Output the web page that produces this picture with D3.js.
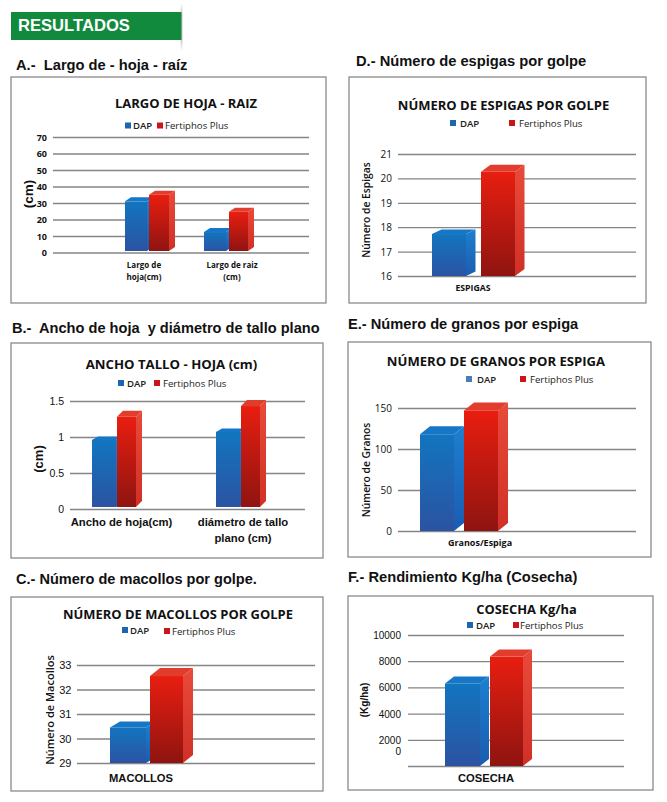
<!DOCTYPE html>
<html><head><meta charset="utf-8">
<script src="https://cdnjs.cloudflare.com/ajax/libs/d3/7.8.5/d3.min.js"></script>
<style>html,body{margin:0;padding:0;background:#fff}svg{display:block}</style>
</head><body><svg id="c" width="667" height="802"></svg>
<script>
const seriesNames = ["DAP", "Fertiphos Plus"];

const catsA = [["Largo de","hoja(cm)"],["Largo de raiz","(cm)"]];
const dapA = [31, 12.4];
const fertA = [35, 24.7];
const ticksA = [0,10,20,30,40,50,60,70];

const catsB = [["Ancho de hoja(cm)"],["diámetro de tallo","plano (cm)"]];
const dapB = [0.96, 1.07];
const fertB = [1.28, 1.43];
const ticksB = [0,0.5,1,1.5];

const catsC = [["MACOLLOS"]];
const dapC = [30.45];
const fertC = [32.55];
const ticksC = [29,30,31,32,33];

const catsD = [["ESPIGAS"]];
const dapD = [17.72];
const fertD = [20.27];
const ticksD = [16,17,18,19,20,21];

const catsE = [["Granos/Espiga"]];
const dapE = [118];
const fertE = [147];
const ticksE = [0,50,100,150];

const catsF = [["COSECHA"]];
const dapF = [6300];
const fertF = [8350];
const ticksF = [0,2000,4000,6000,8000,10000];

const sectionHeads = [
 {t:"A.-  Largo de - hoja - raíz",x:16,y:69.5,s:14.7},
 {t:"B.-  Ancho de hoja  y diámetro de tallo plano",x:12,y:333,s:14.6},
 {t:"C.- Número de macollos por golpe.",x:16,y:584,s:14.55},
 {t:"D.- Número de espigas por golpe",x:356,y:66,s:14.7},
 {t:"E.- Número de granos por espiga",x:348,y:329,s:14.65},
 {t:"F.- Rendimiento Kg/ha (Cosecha)",x:348,y:582,s:14.7}
];

const panels = [
 {box:[11,77,326,303],title:"LARGO DE HOJA - RAIZ",tx:186,ty:108,ts:13,
  leg:[[125,125.5,"DAP",133],[157,125.5,"Fertiphos Plus",165]],ls:9.6,
  y:[252.5,137],grid:[53,309],dom:[0,70],ticks:ticksA,fmt:String,tickX:47,tickS:9,tickW:700,
  cats:catsA,dap:dapA,fert:fertA,xs:[[125,149,20],[204,229,19]],dw:22,depth:6,lift:4,dapLift:4,base:251,
  catX:[144,232],catY:268,catS:8,catLH:12,catW:700,
  ylab:"(cm)",ylx:33,yly:194,yls:13.5,ylw:700},
 {box:[11,343,323,558],title:"ANCHO TALLO - HOJA (cm)",tx:171.5,ty:369,ts:13.2,
  leg:[[118,383,"DAP",127],[154,383,"Fertiphos Plus",163]],ls:9.6,
  y:[509,401],grid:[70,305],dom:[0,1.5],ticks:ticksB,fmt:String,tickX:64,tickS:10.5,tickW:400,
  cats:catsB,dap:dapB,fert:fertB,xs:[[92,117,19],[216,241,19]],dw:24,depth:6,lift:6,dapLift:3.5,base:507,
  catX:[121.5,243],catY:526,catS:11.3,catLH:15.5,catW:700,sans:true,
  ylab:"(cm)",ylx:43,yly:459,yls:13,ylw:700},
 {box:[11,597,323,791],title:"NÚMERO DE MACOLLOS POR GOLPE",tx:178,ty:619,ts:12.95,
  leg:[[122,630,"DAP",130],[164,631,"Fertiphos Plus",172]],ls:9.6,
  y:[763,665],grid:[77,315],dom:[29,33],ticks:ticksC,fmt:String,tickX:71.5,tickS:11,tickW:400,
  cats:catsC,dap:dapC,fert:fertC,xs:[[110,150,33]],dw:36,depth:10,lift:8,dapLift:6,base:763,
  catX:[141],catY:782,catS:11.2,catLH:12,catW:700,sans:true,
  ylab:"Número de Macollos",ylx:54,yly:710,yls:11,ylw:600},
 {box:[349,77,646,303],title:"NÚMERO DE ESPIGAS POR GOLPE",tx:503.5,ty:110,ts:13,
  leg:[[450,123,"DAP",460],[509,123,"Fertiphos Plus",519]],ls:9.6,
  y:[276,154],grid:[398,636],dom:[16,21],ticks:ticksD,fmt:String,tickX:392,tickS:10,tickW:400,
  cats:catsD,dap:dapD,fert:fertD,xs:[[432,481,34]],dw:34,depth:9.5,lift:7,dapLift:4.5,base:276,
  catX:[473],catY:291,catS:8.7,catLH:12,catW:700,
  ylab:"Número de Espigas",ylx:370,yly:210,yls:10.3,ylw:600},
 {box:[348,342,651,557],title:"NÚMERO DE GRANOS POR ESPIGA",tx:496,ty:366,ts:13.1,
  leg:[[466,379,"DAP",477,"#4a7ebb"],[520,379,"Fertiphos Plus",530]],ls:9.6,
  y:[531,408],grid:[398,636],dom:[0,150],ticks:ticksE,fmt:String,tickX:392,tickS:10,tickW:400,
  cats:catsE,dap:dapE,fert:fertE,xs:[[420,464,34]],dw:34,depth:10,lift:8,dapLift:8,base:531,
  catX:[480],catY:546,catS:9,catLH:12,catW:700,
  ylab:"Número de Granos",ylx:369.5,yly:470,yls:10.3,ylw:600},
 {box:[348,596,653,790],title:"COSECHA Kg/ha",tx:526.5,ty:614,ts:12.9,
  leg:[[467,625,"DAP",476],[513,625,"Fertiphos Plus",520]],ls:9.6,
  y:[766,635],grid:[408,624],dom:[0,10000],ticks:ticksF,fmt:String,tickX:401,tickS:10,tickW:400,zeroShift:-15,
  cats:catsF,dap:dapF,fert:fertF,xs:[[445,490,33]],dw:35,depth:9,lift:7,dapLift:7,base:766,
  catX:[486],catY:782,catS:11.2,catLH:12,catW:700,sans:true,
  ylab:"(Kg/ha)",ylx:368,yly:700,yls:10,ylw:700}
];

const svg = d3.select("#c");
const defs = svg.append("defs");
const grad=(id,a,b)=>{const g=defs.append("linearGradient").attr("id",id).attr("x1",0).attr("y1",0).attr("x2",0).attr("y2",1);
 g.append("stop").attr("offset","0").attr("stop-color",a);g.append("stop").attr("offset","1").attr("stop-color",b);};
grad("bf","#1275bf","#2b53a2");
grad("rf","#e81e10","#8f1410");
grad("bs","#1d7fd0","#1b5cb0");
grad("rs","#e84a3a","#d03026");
const fade=defs.append("linearGradient").attr("id","fade").attr("x1",0).attr("y1",0).attr("x2",0).attr("y2",1);
[[0,"#fff"],[0.25,"#c8c8c8"],[0.75,"#c8c8c8"],[1,"#fff"]].forEach(s=>fade.append("stop").attr("offset",s[0]).attr("stop-color",s[1]));

const SANS="'Liberation Sans',Arial,sans-serif", BODY="'Open Sans',sans-serif";

// banner
svg.append("rect").attr("x",180.5).attr("y",3).attr("width",2).attr("height",48).attr("fill","url(#fade)");
svg.append("rect").attr("x",11).attr("y",12).attr("width",170.5).attr("height",28).attr("fill","#118a3e");
svg.append("text").attr("x",18).attr("y",31).attr("fill","#fff").attr("font-family",SANS).attr("font-weight",700).attr("font-size",16.6).text("RESULTADOS");

svg.selectAll(".h").data(sectionHeads).join("text")
 .attr("x",d=>d.x).attr("y",d=>d.y).attr("font-family",SANS).attr("font-weight",700).attr("font-size",d=>d.s).attr("fill","#111").style("white-space","pre").text(d=>d.t);

panels.forEach(p=>{
 const g=svg.append("g");
 const [x0,y0,x1,y1]=p.box;
 g.append("rect").attr("x",x0).attr("y",y0).attr("width",x1-x0).attr("height",y1-y0).attr("fill","#fff").attr("stroke","#8a8a8a").attr("stroke-width",1.3);
 g.append("text").attr("x",p.tx).attr("y",p.ty).attr("text-anchor","middle").attr("font-family",BODY).attr("font-weight",700).attr("font-size",p.ts).attr("fill","#111").text(p.title);
 // legend
 p.leg.forEach((l,i)=>{
  g.append("rect").attr("x",l[0]).attr("y",l[1]-3).attr("width",6).attr("height",6).attr("fill",l[4]||(i?"#c8161a":"#1b66b0"));
  g.append("text").attr("x",l[3]).attr("y",l[1]+3.5).attr("font-family",BODY).attr("font-size",p.ls).attr("font-weight",i?400:600).attr("fill","#222").text(l[2]);
 });
 const y=d3.scaleLinear().domain(p.dom).range(p.y);
 const ax=d3.axisLeft(y).tickValues(p.ticks).tickSize(p.grid[1]-p.grid[0]).tickFormat(p.fmt);
 const ag=g.append("g").attr("transform",`translate(${p.grid[1]},0)`).call(ax);
 ag.select(".domain").remove();
 ag.selectAll("line").attr("stroke","#858585").attr("stroke-width",1.3);
 ag.selectAll("text").attr("x",-(p.grid[1]-p.tickX)).attr("dy","0.34em").attr("font-family",p.sans?SANS:BODY).attr("font-size",p.tickS).attr("font-weight",p.tickW).attr("fill","#111");
 if(p.zeroShift) ag.selectAll(".tick").filter(d=>d===0).select("text").attr("y",p.zeroShift);
 // bars
 const bar=(val,bx,w,kind,dy)=>{
  const top=y(val), b=p.base, dx=p.depth;
  const bg=g.append("g");
  bg.append("path").attr("d",`M${bx+w},${top}L${bx+w+dx},${top-dy}L${bx+w+dx},${b-dy}L${bx+w},${b}Z`).attr("fill",`url(#${kind}s)`);
  bg.append("path").attr("d",`M${bx},${top}L${bx+dx},${top-dy}L${bx+w+dx},${top-dy}L${bx+w},${top}Z`).attr("fill",kind=="b"?"#1676c8":"#e23c2c");
  bg.append("rect").attr("x",bx).attr("y",top).attr("width",w).attr("height",b-top).attr("fill",`url(#${kind}f)`);
 };
 p.cats.forEach((c,i)=>{
  bar(p.dap[i],p.xs[i][0],p.dw,"b",p.dapLift);
  bar(p.fert[i],p.xs[i][1],p.xs[i][2],"r",p.lift);
  const t=g.append("text").attr("text-anchor","middle").attr("font-family",p.sans?SANS:BODY).attr("font-size",p.catS).attr("font-weight",p.catW).attr("fill","#111");
  c.forEach((ln,k)=>t.append("tspan").attr("x",p.catX[i]).attr("y",p.catY+k*p.catLH).text(ln));
 });
 g.append("text").attr("transform",`translate(${p.ylx},${p.yly}) rotate(-90)`).attr("text-anchor","middle").attr("font-family",p.ylw==700?SANS:BODY).attr("font-size",p.yls).attr("font-weight",p.ylw).attr("fill","#111").text(p.ylab);
});
</script></body></html>
